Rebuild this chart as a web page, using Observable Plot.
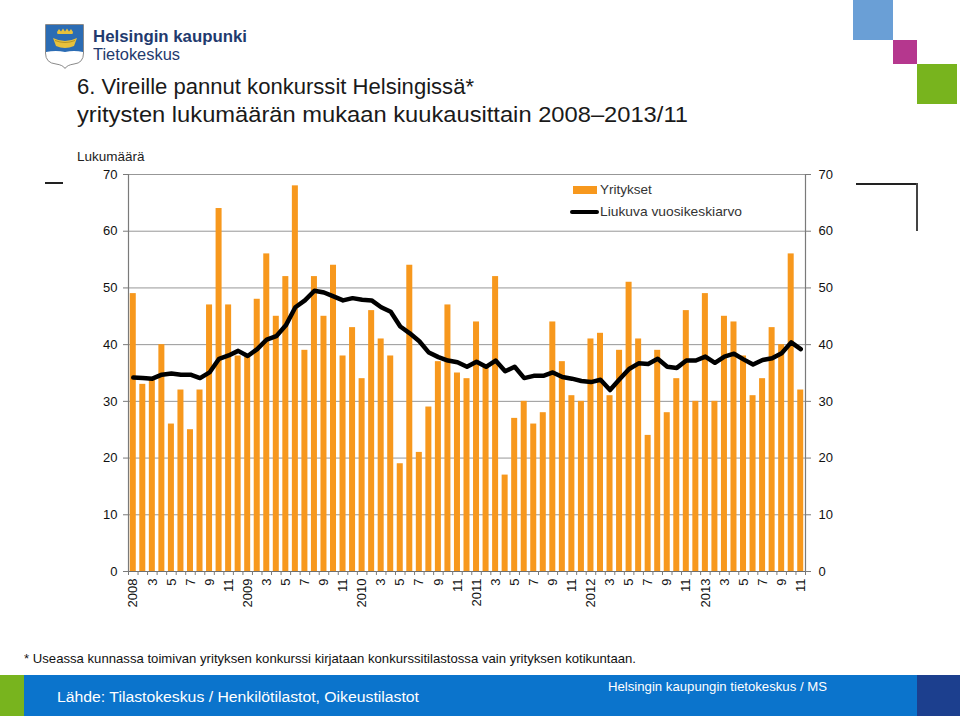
<!DOCTYPE html>
<html>
<head>
<meta charset="utf-8">
<script src="https://cdn.jsdelivr.net/npm/d3@7"></script>
<script src="https://cdn.jsdelivr.net/npm/@observablehq/plot@0.6"></script>
<style>
  html, body { margin: 0; padding: 0; background: #fff; }
  #page { position: relative; width: 960px; height: 716px; overflow: hidden; background: #fff;
          font-family: "Liberation Sans", Arial, Helvetica, sans-serif; color: #222; }
  .abs { position: absolute; white-space: nowrap; }
  .fit { transform-origin: 0 50%; display: inline-block; }
</style>
</head>
<body>
<div id="page">
  <!-- corner squares -->
  <div class="abs" style="left:853px;top:0;width:40px;height:40px;background:#6a9fd6"></div>
  <div class="abs" style="left:893px;top:40px;width:24px;height:24px;background:#b5378e"></div>
  <div class="abs" style="left:917px;top:64px;width:40px;height:40px;background:#78b41e"></div>

  <!-- logo -->
  <svg class="abs" style="left:44px;top:23px" width="42" height="47" viewBox="0 0 42 47">
    <path d="M1.5 1.5 H39.5 V30 Q39.5 40 30 41 Q23 42 21 45.5 Q19 42 12 41 Q1.5 40 1.5 30 Z" fill="#fff" stroke="#8a8a8a" stroke-width="1"/>
    <path d="M2 2 H39 V29 Q30 27 21 29 Q12 27 2 29 Z" fill="#2b6cb4"/>
    <path d="M9 15 Q21 21 33 15 L30 23 Q21 27 12 23 Z" fill="#e8c13c"/>
    <path d="M11 17.5 Q21 21.5 31 17.5" stroke="#a88a20" stroke-width="0.8" fill="none"/>
    <path d="M13 9 L15 6 L17 8.5 L19 5.5 L21 8.5 L23 5.5 L25 8.5 L27 6 L29 9 L28.5 11 H13.5 Z" fill="#e8c13c"/>
  </svg>
  <div class="abs" style="left:93px;top:27px;font-size:17px;font-weight:bold;color:#1f3a6e;"><span class="fit" data-w="154">Helsingin kaupunki</span></div>
  <div class="abs" style="left:93px;top:46px;font-size:16px;color:#1f3a6e;"><span class="fit" data-w="87">Tietokeskus</span></div>

  <!-- title -->
  <div class="abs" id="t1" style="left:77px;top:75px;font-size:21.5px;color:#1a1a1a;"><span class="fit" data-w="397">6. Vireille pannut konkurssit Helsingissä*</span></div>
  <div class="abs" id="t2" style="left:77px;top:103px;font-size:21.5px;color:#1a1a1a;"><span class="fit" data-w="611">yritysten lukumäärän mukaan kuukausittain 2008–2013/11</span></div>

  <div class="abs" style="left:77px;top:149px;font-size:13.5px;color:#222;">Lukumäärä</div>

  <!-- decorative lines -->
  <div class="abs" style="left:45px;top:182px;width:18px;height:1.5px;background:#222"></div>
  <div class="abs" style="left:856px;top:183px;width:61px;height:1.5px;background:#222"></div>
  <div class="abs" style="left:916px;top:183px;width:1.5px;height:48px;background:#444"></div>

  <!-- chart -->
  <div class="abs" id="chart" style="left:0;top:160px;"></div>

  <!-- legend -->
  <div class="abs" style="left:573px;top:186px;width:24px;height:8px;background:#f7981d"></div>
  <div class="abs" style="left:600px;top:182px;font-size:13.5px;color:#333;">Yritykset</div>
  <div class="abs" style="left:570px;top:210px;width:29px;height:4px;background:#000;border-radius:2px"></div>
  <div class="abs" style="left:600px;top:204px;font-size:13.5px;color:#333;"><span class="fit" data-w="142">Liukuva vuosikeskiarvo</span></div>

  <!-- footnote -->
  <div class="abs" style="left:24px;top:651px;font-size:13.5px;color:#111;"><span class="fit" data-w="612">* Useassa kunnassa toimivan yrityksen konkurssi kirjataan konkurssitilastossa vain yrityksen kotikuntaan.</span></div>

  <!-- footer -->
  <div class="abs" style="left:0;top:675px;width:24px;height:41px;background:#78b41e"></div>
  <div class="abs" style="left:24px;top:675px;width:893px;height:41px;background:#0b74cc"></div>
  <div class="abs" style="left:917px;top:675px;width:43px;height:41px;background:#1c3f8e"></div>
  <div class="abs" style="left:57px;top:688px;font-size:15.5px;color:#fff;"><span class="fit" data-w="362">Lähde: Tilastokeskus / Henkilötilastot, Oikeustilastot</span></div>
  <div class="abs" style="left:608px;top:679px;font-size:13.5px;color:#fff;"><span class="fit" data-w="219">Helsingin kaupungin tietokeskus / MS</span></div>
</div>
<script>
// Monthly bankruptcies (companies), Jan 2008 – Nov 2013
const yritykset = [
  49,33,34,40,26,32,25,32,47,64,47,38,   // 2008
  38,48,56,45,52,68,39,52,45,54,38,43,   // 2009
  34,46,41,38,19,54,21,29,37,47,35,34,   // 2010
  44,36,52,17,27,30,26,28,44,37,31,30,   // 2011
  41,42,31,39,51,41,24,39,28,34,46,30,   // 2012
  49,30,45,44,38,31,34,43,40,56,32       // 2013
];
// 12-month moving average
const liukuva = [
  34.2,34.1,34.0,34.7,34.9,34.7,34.7,34.1,35.1,37.5,38.1,38.9,
  38.0,39.2,40.9,41.5,43.4,46.6,47.8,49.5,49.2,48.5,47.8,48.2,
  47.9,47.8,46.6,45.8,43.2,42.0,40.6,38.6,37.8,37.2,36.9,36.1,
  37.0,36.1,37.2,35.3,36.1,34.1,34.5,34.5,35.1,34.3,34.0,33.6,
  33.4,33.8,32.0,33.9,35.7,36.7,36.6,37.5,36.1,35.9,37.2,37.2,
  37.9,36.8,37.9,38.4,37.4,36.5,37.3,37.6,38.5,40.4,39.2
];
// x tick labels: every other month
const tickLabels = [
  "2008","3","5","7","9","11",
  "2009","3","5","7","9","11",
  "2010","3","5","7","9","11",
  "2011","3","5","7","9","11",
  "2012","3","5","7","9","11",
  "2013","3","5","7","9","11"
];
const yTicks = [0,10,20,30,40,50,60,70];

const n = yritykset.length;
const data = yritykset.map((v, i) => ({i, v, ma: liukuva[i]}));
const inset = 0.185;
const labelPos = tickLabels.map((_, k) => 2 * k + 0.5);

const chart = Plot.plot({
  width: 960,
  height: 456,
  marginLeft: 128,
  marginRight: 155,
  marginTop: 14,
  marginBottom: 45,
  x: {domain: [0, n], axis: null},
  y: {domain: [0, 70], axis: null},
  style: {fontFamily: "'Liberation Sans', Arial, sans-serif", fontSize: "13px", color: "#111", background: "transparent"},
  marks: [
    Plot.gridY({ticks: yTicks, stroke: "#979797", strokeOpacity: 1, strokeWidth: 1}),
    Plot.rectY(data, {x1: d => d.i + inset, x2: d => d.i + 1 - inset, y: "v", fill: "#f7981d"}),
    Plot.ruleX([0, n], {stroke: "#7a7a7a", strokeWidth: 1.2}),
    Plot.ruleY([0], {stroke: "#6f6f6f", strokeWidth: 1.2}),
    Plot.axisY({anchor: "left", ticks: yTicks, tickSize: 5, tickPadding: 6, label: null, stroke: "#7a7a7a", fontSize: 13}),
    Plot.axisY({anchor: "right", ticks: yTicks, tickSize: 5, tickPadding: 8, label: null, stroke: "#7a7a7a", fontSize: 13}),
    Plot.axisX({ticks: d3.range(n + 1), tickSize: 4, tickFormat: () => "", label: null, stroke: "#7a7a7a"}),
    Plot.axisX({ticks: labelPos, tickFormat: d => tickLabels[Math.round((d - 0.5) / 2)], tickSize: 0, tickPadding: 7, tickRotate: -90, label: null, fontSize: 13}),
    Plot.line(data, {x: d => d.i + 0.5, y: "ma", stroke: "#000", strokeWidth: 4.5, strokeLinejoin: "round", strokeLinecap: "round"})
  ]
});
document.getElementById("chart").appendChild(chart);

// fit text spans to their measured widths in the reference
document.querySelectorAll(".fit").forEach(el => {
  const target = +el.dataset.w;
  const w = el.getBoundingClientRect().width;
  if (w > 0) el.style.transform = `scaleX(${target / w})`;
});
</script>
</body>
</html>
